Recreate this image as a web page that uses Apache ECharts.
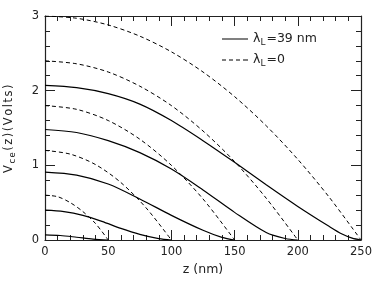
<!DOCTYPE html>
<html>
<head>
<meta charset="utf-8">
<script src="https://cdn.jsdelivr.net/npm/echarts@6/dist/echarts.min.js"></script>
<style>
html,body{margin:0;padding:0;background:#fff;}
#chart{width:382px;height:281px;}
</style>
</head>
<body>
<div id="chart"></div>
<script>
// tick labels
const xTicks = [0, 50, 100, 150, 200, 250];
const yTicks = [0, 1, 2, 3];

// solid curves (lambda_L = 39 nm): [z (nm), V (Volts)]
const solidL250 = [[0,2.07],[25,2.04],[50,1.96],[75,1.82],[100,1.60],[125,1.33],[150,1.04],[175,0.74],[200,0.45],[225,0.18],[235,0.08],[243,0.025],[250,0]];
const solidL200 = [[0,1.48],[25,1.44],[50,1.33],[75,1.17],[100,0.95],[125,0.67],[150,0.37],[175,0.10],[190,0.02],[200,0]];
const solidL150 = [[0,0.91],[25,0.87],[50,0.75],[75,0.55],[100,0.33],[125,0.13],[140,0.035],[150,0]];
const solidL100 = [[0,0.40],[15,0.38],[30,0.33],[45,0.25],[60,0.155],[75,0.075],[90,0.018],[100,0]];
const solidL50  = [[0,0.068],[12,0.06],[25,0.037],[38,0.012],[50,0]];

// dashed curves (lambda_L = 0): [z (nm), V (Volts)]
const dashL250 = [[0,3.00],[25,2.97],[50,2.88],[75,2.73],[100,2.52],[125,2.25],[150,1.92],[175,1.53],[200,1.08],[225,0.57],[250,0]];
const dashL200 = [[0,2.40],[25,2.36],[50,2.25],[75,2.06],[100,1.80],[125,1.46],[150,1.05],[175,0.56],[200,0]];
const dashL150 = [[0,1.80],[25,1.75],[50,1.60],[75,1.35],[100,1.00],[125,0.55],[150,0]];
const dashL100 = [[0,1.20],[20,1.15],[40,1.01],[60,0.77],[80,0.43],[100,0]];
const dashL50  = [[0,0.60],[10,0.58],[20,0.50],[30,0.38],[40,0.22],[50,0]];

const legendSolid = 'λL=39 nm';
const legendDash = 'λL=0';

const FONT = 'DejaVu Sans';
const chart = echarts.init(document.getElementById('chart'), null, {renderer:'canvas'});

function axisCommon(showLabel){
  return {
    axisLine:{show:true, onZero:false, lineStyle:{color:'#222', width:1.2}},
    axisTick:{show:true, inside:true, length:10},
    minorTick:{show:true, splitNumber:5, length:5},
    splitLine:{show:false},
    axisLabel:{show:showLabel, color:'#222', fontFamily:FONT, fontSize:11.5, margin:6}
  };
}

const solidStyle = {color:'#000', width:1.2, type:'solid'};
const dashStyle = {color:'#000', width:1, type:[4,3]};

function mk(name, data, style){
  return {name:name, type:'line', data:data, showSymbol:false, symbol:'none', smooth:0.3,
    lineStyle:style, itemStyle:{color:'#000'}, silent:true, animation:false};
}

// letter-spaced rich text for the y-axis title
function spaced(str, key){
  return str.split('').map(function(c){ return '{' + key + '|' + c + '}'; }).join('');
}
const yNameRich = spaced('V','v') + spaced('ce','s') + spaced('(z)(Volts)','v');

const option = {
  animation:false,
  backgroundColor:'#fff',
  grid:{left:45, right:21, top:16, bottom:41, containLabel:false, outerBoundsMode:'none'},
  legend:{
    orient:'vertical', left:222, top:32, padding:0, itemWidth:26, itemHeight:12, itemGap:6,
    data:[
      {name:legendSolid, icon:'path://M0,0h26v1h-26z'},
      {name:legendDash, icon:'path://M0,0h4v1h-4zM7,0h4v1h-4zM14,0h4v1h-4zM21,0h5v1h-5z'}
    ],
    itemStyle:{color:'#000', borderWidth:0},
    formatter:function(n){ return n===legendSolid ? '{a|λ}{s|L}{a|=39 nm}' : '{a|λ}{s|L}{a|=0}'; },
    textStyle:{color:'#222', fontFamily:FONT, fontSize:12.5,
      rich:{a:{fontFamily:FONT, fontSize:12.5, color:'#222', lineHeight:16},
            s:{fontFamily:FONT, fontSize:9, color:'#222', verticalAlign:'bottom', lineHeight:16, padding:[6,1,0,0]}}}
  },
  xAxis:[
    Object.assign({type:'value', position:'bottom', min:0, max:250, interval:50,
      name:'z (nm)', nameLocation:'middle', nameGap:22,
      nameTextStyle:{color:'#222', fontFamily:FONT, fontSize:12.5}}, axisCommon(true)),
    Object.assign({type:'value', position:'top', min:0, max:250, interval:50}, axisCommon(false))
  ],
  yAxis:[
    Object.assign({type:'value', position:'left', min:0, max:3, interval:1,
      name:yNameRich, nameLocation:'middle', nameGap:28,
      nameTextStyle:{color:'#222', fontFamily:FONT, fontSize:11.5, padding:[0,0,0,0],
        rich:{v:{fontFamily:FONT, fontSize:11.5, color:'#222', lineHeight:16, padding:[0,1.5,0,0]},
              s:{fontFamily:FONT, fontSize:8.5, color:'#222', verticalAlign:'bottom', lineHeight:16, padding:[6,1.5,0,0]}}}}, axisCommon(true)),
    Object.assign({type:'value', position:'right', min:0, max:3, interval:1}, axisCommon(false))
  ],
  series:[
    mk(legendSolid, solidL250, solidStyle),
    mk(legendSolid, solidL200, solidStyle),
    mk(legendSolid, solidL150, solidStyle),
    mk(legendSolid, solidL100, solidStyle),
    mk(legendSolid, solidL50, solidStyle),
    mk(legendDash, dashL250, dashStyle),
    mk(legendDash, dashL200, dashStyle),
    mk(legendDash, dashL150, dashStyle),
    mk(legendDash, dashL100, dashStyle),
    mk(legendDash, dashL50, dashStyle)
  ]
};
chart.setOption(option);
</script>
</body>
</html>
